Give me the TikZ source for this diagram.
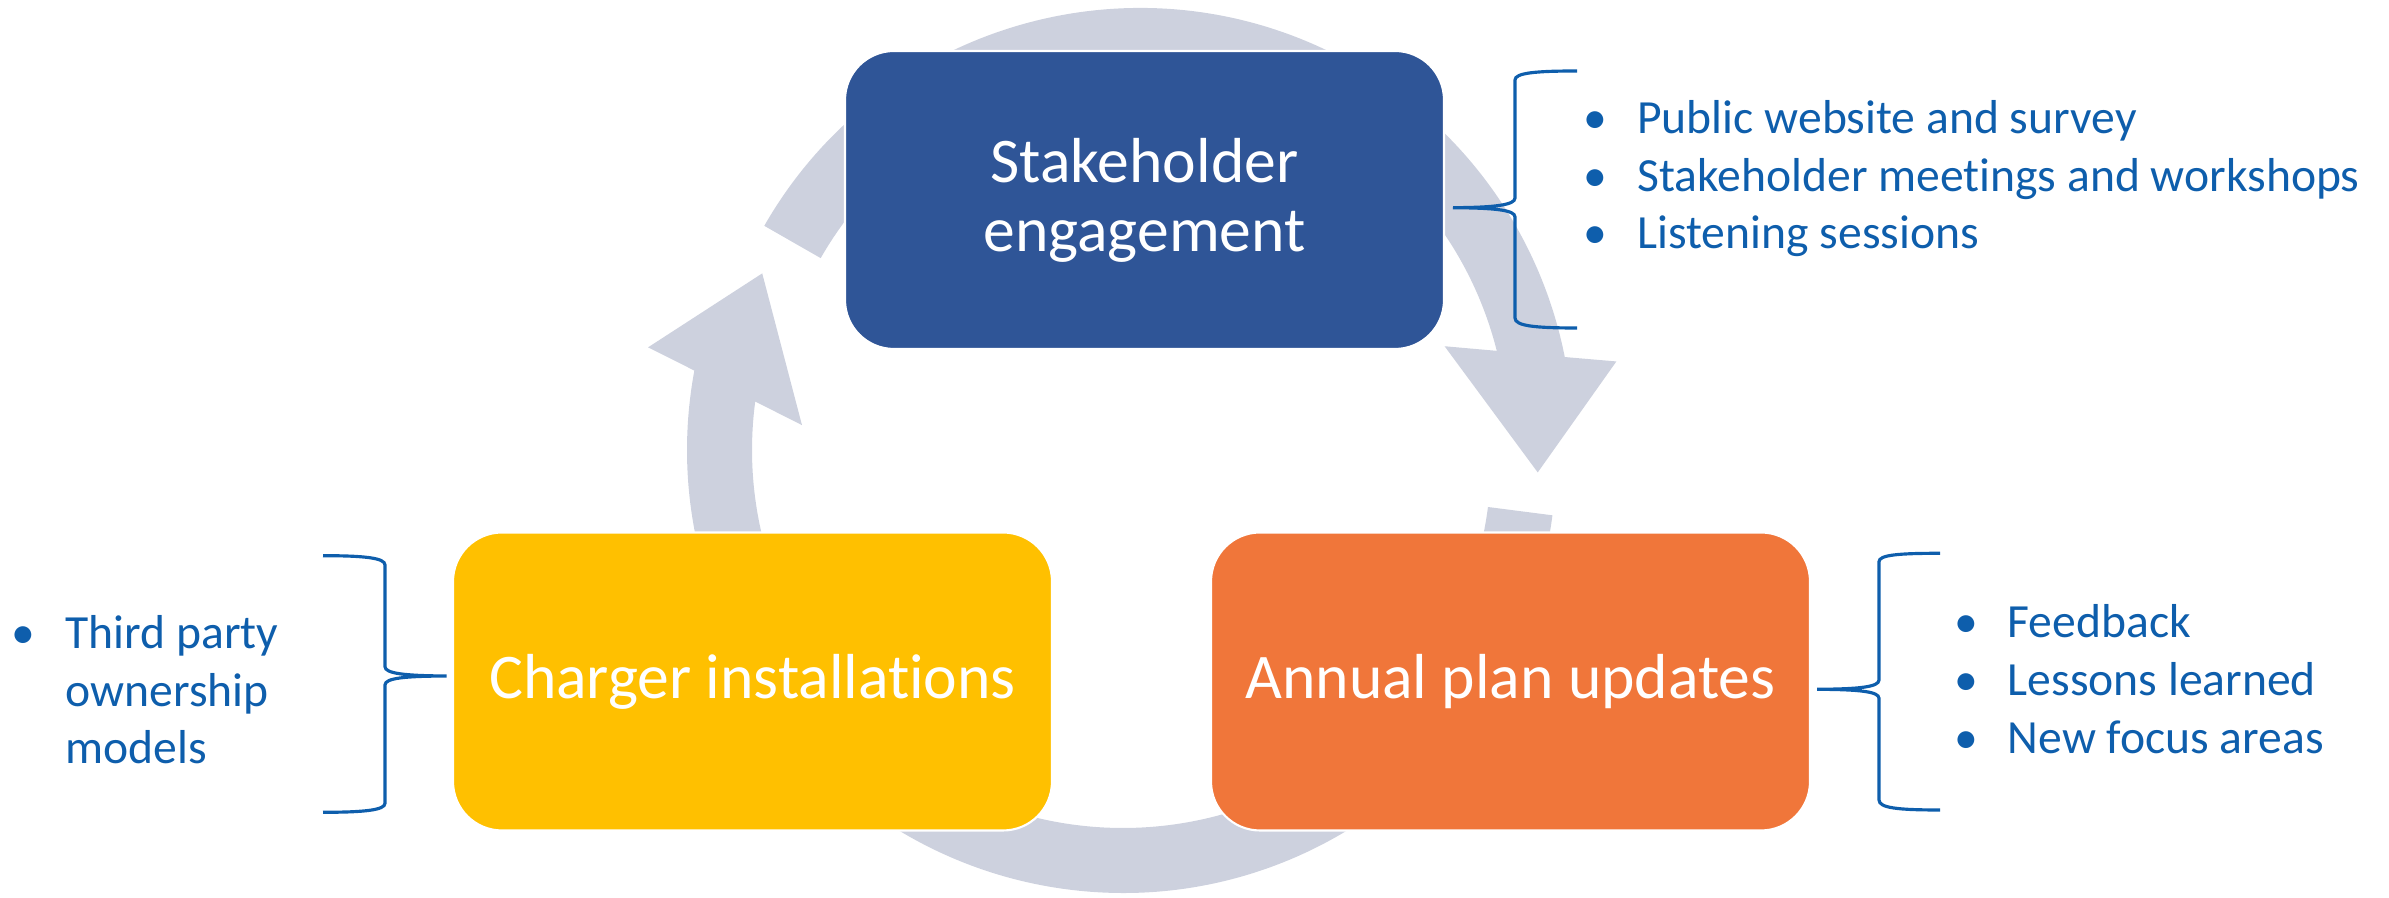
\documentclass[tikz,border=0pt]{standalone}
\usepackage{fontspec}
\setmainfont{Carlito}[Ligatures=NoCommon]
\usetikzlibrary{calc}
\definecolor{stakeblue}{RGB}{47,85,151}
\definecolor{chargeryellow}{RGB}{255,192,0}
\definecolor{planorange}{RGB}{240,118,58}
\definecolor{ringgray}{RGB}{205,209,222}
\definecolor{listblue}{RGB}{14,94,172}
\def\cyclearrow(#1)(#2:#3){\fill[ringgray] ($(#1)+(#2:4.33)$) arc[start angle=#2, end angle=#3, radius=4.33] -- ($(#1)+(#3-1.7:4.83)$) -- ($(#1)+(#3-15.7:3.99)$) -- ($(#1)+(#3+6.1:3.19)$) -- ($(#1)+(#3+3:3.68)$) arc[start angle=#3+3, end angle=#2, radius=3.68] -- cycle;}
\newcommand{\itembul}{\llap{\textbullet\hspace{0.3cm}}}

\begin{document}
\begin{tikzpicture}[
	phasebox/.style={rounded corners=0.49cm, minimum width=5.99cm, minimum height=2.98cm, inner sep=0pt, draw=white, line width=0.6pt, text=white, align=center, font=\fontsize{18.1}{19.6}\selectfont},
	listline/.style={anchor=base west, inner sep=0pt, text=listblue, font=\fontsize{13.55}{16.3}\selectfont},
	bracket/.style={draw=listblue, line width=0.9pt}
	]
			\useasboundingbox (0,0) rectangle (23.89,8.98);
			
			%%%%% RING %%%%%
			\cyclearrow(11.40,4.57)(150.2:11.18)
			\cyclearrow(11.20,4.48)(200:169.43)
			\cyclearrow(11.23,4.38)(-7.34:-135)
			
			%%%%% BOXES %%%%%
			\node[phasebox, fill=stakeblue] (stake) at (11.445, 6.98) {Stakeholder\\engagement};
			\node[phasebox, fill=chargeryellow] (charger) at (7.525, 2.165) {Charger installations};
			\node[phasebox, fill=planorange] (plan) at (15.105, 2.165) {Annual plan updates};
			
			%%%%% BRACES %%%%%
			\draw[bracket] (15.77,8.27) .. controls (15.35,8.27) and (15.15,8.25) .. (15.15,8.18) -- (15.15,7.00) .. controls (15.15,6.93) and (14.95,6.905) .. (14.53,6.903) .. controls (14.95,6.90) and (15.15,6.88) .. (15.15,6.81) -- (15.15,5.80) .. controls (15.15,5.72) and (15.35,5.70) .. (15.77,5.70);
			\draw[bracket] (19.40,3.447) .. controls (18.98,3.447) and (18.79,3.43) .. (18.79,3.363) -- (18.79,2.18) .. controls (18.79,2.11) and (18.59,2.089) .. (18.17,2.087) .. controls (18.59,2.085) and (18.79,2.065) .. (18.79,1.997) -- (18.79,0.98) .. controls (18.79,0.90) and (18.98,0.88) .. (19.40,0.88);
			\draw[bracket] (3.23,3.423) .. controls (3.65,3.423) and (3.85,3.40) .. (3.85,3.33) -- (3.85,2.313) .. controls (3.85,2.245) and (4.05,2.222) .. (4.467,2.22) .. controls (4.05,2.218) and (3.85,2.20) .. (3.85,2.13) -- (3.85,0.947) .. controls (3.85,0.88) and (3.65,0.857) .. (3.23,0.857);
			
			%%%%% LISTS %%%%%
			\node[listline] (web) at (16.367, 7.647) {\itembul Public website and survey};
			\node[listline] (meet) at (16.367, 7.063) {\itembul Stakeholder meetings and workshops};
			\node[listline] (listen) at (16.367, 6.497) {\itembul Listening sessions};
			
			\node[listline] (feed) at (20.07, 2.603) {\itembul Feedback};
			\node[listline] (lesson) at (20.07, 2.023) {\itembul Lessons learned};
			\node[listline] (focus) at (20.07, 1.443) {\itembul New focus areas};
			
			\node[listline] (third) at (0.65, 2.49) {\itembul Third party};
			\node[listline] (own) at (0.65, 1.91) {ownership};
			\node[listline] (model) at (0.65, 1.34) {models};
\end{tikzpicture}
\end{document}
